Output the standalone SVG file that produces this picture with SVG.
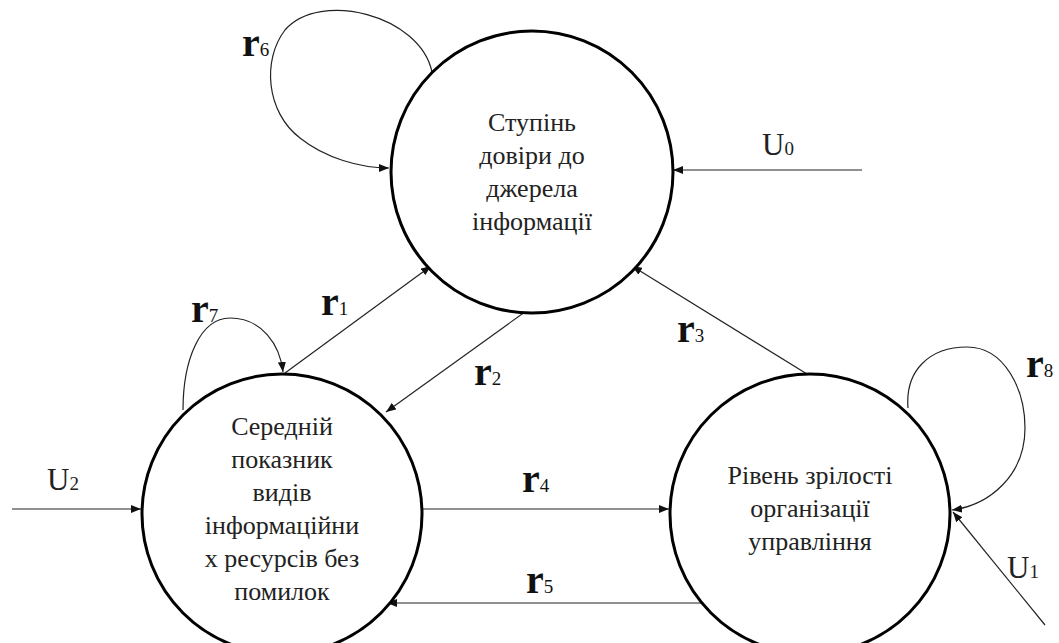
<svg xmlns="http://www.w3.org/2000/svg" width="1059" height="643" viewBox="0 0 1059 643">
<style>
.node{fill:#fff;stroke:#000;stroke-width:3}
.t{font-size:26px;fill:#222;text-anchor:middle}
.c{fill:none;stroke:#222;stroke-width:1.2}
.r{font-size:40px;font-weight:bold;fill:#111}
.u{font-size:31px;fill:#222}
.sub{font-size:19px;font-weight:normal}
</style>
<defs>
<marker id="ah" viewBox="0 0 10 8" refX="10" refY="4" markerWidth="10" markerHeight="8" markerUnits="userSpaceOnUse" orient="auto">
<path d="M0,0 L10,4 L0,8 Z" fill="#111"/>
</marker>
</defs>
<g id="connectors">
<path class="c" d="M432,72 C420,15 320,-10 285,30 C262,60 266,112 300,138 C325,158 360,168 389,168" marker-end="url(#ah)"/>
<line class="c" x1="862" y1="170" x2="673" y2="170" marker-end="url(#ah)"/>
<path class="c" d="M183,410 C183,360 200,318 230,318 C262,318 280,345 283,372" marker-end="url(#ah)"/>
<line class="c" x1="285" y1="373" x2="431" y2="266" marker-end="url(#ah)"/>
<line class="c" x1="529" y1="309" x2="386" y2="412" marker-end="url(#ah)"/>
<line class="c" x1="807" y1="374" x2="632" y2="266" marker-end="url(#ah)"/>
<line class="c" x1="12" y1="509" x2="141" y2="509" marker-end="url(#ah)"/>
<line class="c" x1="422" y1="509" x2="669" y2="509" marker-end="url(#ah)"/>
<line class="c" x1="705" y1="603" x2="387" y2="603" marker-end="url(#ah)"/>
<path class="c" d="M908,408 C905,370 930,347 967,347 C1005,347 1025,390 1025,428 C1025,475 990,505 952,510" marker-end="url(#ah)"/>
<line class="c" x1="1045" y1="625" x2="953" y2="512" marker-end="url(#ah)"/>
</g>
<g font-family="Liberation Serif, DejaVu Serif, serif">
<g id="node-top">
<circle class="node" cx="532" cy="172" r="141"/>
<text class="t" x="532" y="131">Ступінь</text>
<text class="t" x="532" y="164">довіри до</text>
<text class="t" x="532" y="197">джерела</text>
<text class="t" x="532" y="230">інформації</text>
</g>
<g id="node-left">
<circle class="node" cx="282" cy="514" r="140"/>
<text class="t" x="282" y="435">Середній</text>
<text class="t" x="282" y="468">показник</text>
<text class="t" x="282" y="501">видів</text>
<text class="t" x="282" y="534">інформаційни</text>
<text class="t" x="282" y="567">х ресурсів без</text>
<text class="t" x="282" y="600">помилок</text>
</g>
<g id="node-right">
<circle class="node" cx="810" cy="514" r="140"/>
<text class="t" x="810" y="484">Рівень зрілості</text>
<text class="t" x="810" y="517">організації</text>
<text class="t" x="810" y="550">управління</text>
</g>
<g id="labels">
<text class="r" x="242" y="56">r<tspan class="sub">6</tspan></text>
<text class="r" x="321" y="315">r<tspan class="sub">1</tspan></text>
<text class="r" x="474" y="385">r<tspan class="sub">2</tspan></text>
<text class="r" x="677" y="342">r<tspan class="sub">3</tspan></text>
<text class="r" x="522" y="492">r<tspan class="sub">4</tspan></text>
<text class="r" x="526" y="593">r<tspan class="sub">5</tspan></text>
<text class="r" x="191" y="322">r<tspan class="sub">7</tspan></text>
<text class="r" x="1026" y="377">r<tspan class="sub">8</tspan></text>
<text class="u" x="762" y="155">U<tspan class="sub" font-size="22">0</tspan></text>
<text class="u" x="47" y="490">U<tspan class="sub" font-size="22">2</tspan></text>
<text class="u" x="1007" y="578">U<tspan class="sub" font-size="22">1</tspan></text>
</g>
</g>
</svg>
